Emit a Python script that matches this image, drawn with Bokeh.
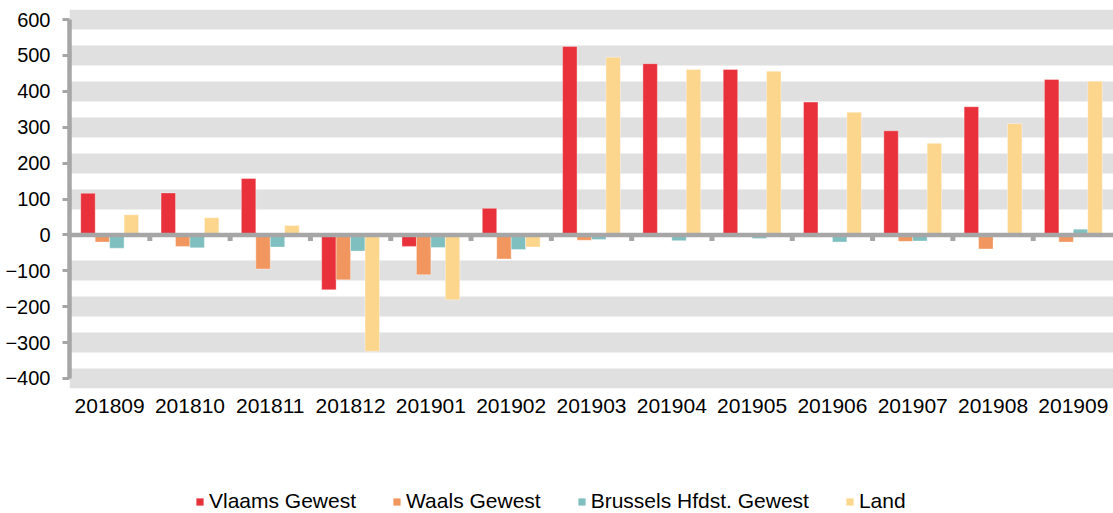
from bokeh.plotting import figure
from bokeh.models import (FactorRange, Range1d, FixedTicker, Span, Legend, LegendItem,
                          ColumnDataSource)
from bokeh.transform import dodge
from bokeh.layouts import column
from bokeh.embed import file_html
from bokeh.resources import INLINE

months = ["201809", "201810", "201811", "201812", "201901", "201902", "201903",
          "201904", "201905", "201906", "201907", "201908", "201909"]
vlaams = [116, 117, 157, -153, -32, 74, 525, 477, 461, 370, 290, 357, 433]
waals = [-20, -32, -95, -125, -111, -67, -15, -1, -1, -6, -18, -39, -20]
brussel = [-37, -36, -34, -45, -35, -41, -13, -16, -10, -20, -17, -4, 16]
land = [56, 48, 26, -324, -181, -34, 495, 461, 456, 342, 255, 310, 428]

series_names = ["Vlaams Gewest", "Waals Gewest", "Brussels Hfdst. Gewest", "Land"]
colors = ["#E8313A", "#F0965E", "#7FBFBF", "#FDD68E"]
y_ticks = [-400, -300, -200, -100, 0, 100, 200, 300, 400, 500, 600]

FONT = "Liberation Sans"
AXIS_GREY = "#a6a6a6"

src = ColumnDataSource(dict(month=months, v=vlaams, w=waals, b=brussel, l=land))

p = figure(x_range=FactorRange(*months, range_padding=0), y_range=Range1d(-428, 628),
           width=1113, height=418, output_backend="svg",
           toolbar_location=None, min_border_left=69, min_border_right=0,
           min_border_top=9, min_border_bottom=30)
p.outline_line_color = None
p.background_fill_color = "white"

# grey bands (thick gridlines) at every tick except 0
p.xgrid.visible = False
p.ygrid.ticker = FixedTicker(ticks=[t for t in y_ticks if t != 0])
p.ygrid.grid_line_color = "#e0e0e0"
p.ygrid.grid_line_width = 20

offsets = [-0.27, -0.09, 0.09, 0.27]
fields = ["v", "w", "b", "l"]
for f, off, c in zip(fields, offsets, colors):
    p.vbar(x=dodge("month", off, range=p.x_range), top=f, bottom=0, width=0.18,
           source=src, fill_color=c, line_color="white", line_alpha=0.35, line_width=1)

# zero line
p.add_layout(Span(location=0, dimension="width", line_color=AXIS_GREY, line_width=4.5))

# tick marks between categories on the zero line
tick_len = 6 * (628 - (-428)) / 379.0
bsrc = ColumnDataSource(dict(month=months[:-1]))
p.segment(x0=dodge("month", 0.5, range=p.x_range), x1=dodge("month", 0.5, range=p.x_range),
          y0=0, y1=-tick_len, source=bsrc, line_color=AXIS_GREY, line_width=5)

# y axis
ya = p.yaxis[0]
ya.ticker = FixedTicker(ticks=y_ticks)
ya.bounds = (-400, 600)
ya.axis_line_color = AXIS_GREY
ya.axis_line_width = 4.5
ya.major_tick_line_color = AXIS_GREY
ya.major_tick_line_width = 3
ya.major_tick_out = 7
ya.major_tick_in = 0
ya.minor_tick_line_color = None
ya.major_label_standoff = 12
ya.major_label_text_font = FONT
ya.major_label_text_font_size = "20px"
ya.major_label_text_color = "#000000"

# x axis
xa = p.xaxis[0]
xa.axis_line_color = None
xa.major_tick_line_color = None
xa.minor_tick_line_color = None
xa.major_label_standoff = 4
xa.major_label_text_font = FONT
xa.major_label_text_font_size = "21px"
xa.major_label_text_color = "#000000"

# legend strip below the chart (swatch renderers sit outside the strip's visible range)
pl = figure(width=1113, height=95, x_range=Range1d(0, 1), y_range=Range1d(0, 1),
            x_axis_type=None, y_axis_type=None, output_backend="svg",
            toolbar_location=None, min_border=0)
pl.outline_line_color = None
pl.xgrid.visible = False
pl.ygrid.visible = False
swatches = [pl.vbar(x=[-10], top=[-10], bottom=[-11], width=0.1, fill_color=c, line_color=None)
            for c in colors]
legend = Legend(items=[LegendItem(label=n, renderers=[r]) for n, r in zip(series_names, swatches)],
                orientation="horizontal", location=(126, 0), margin=0, padding=0,
                glyph_width=9, glyph_height=9, label_standoff=5, spacing=36,
                label_text_font=FONT, label_text_font_size="21px",
                label_text_color="#000000", border_line_color=None,
                background_fill_alpha=0)
pl.add_layout(legend, "center")

open("out.html", "w").write(file_html(column(p, pl, spacing=0), INLINE))
